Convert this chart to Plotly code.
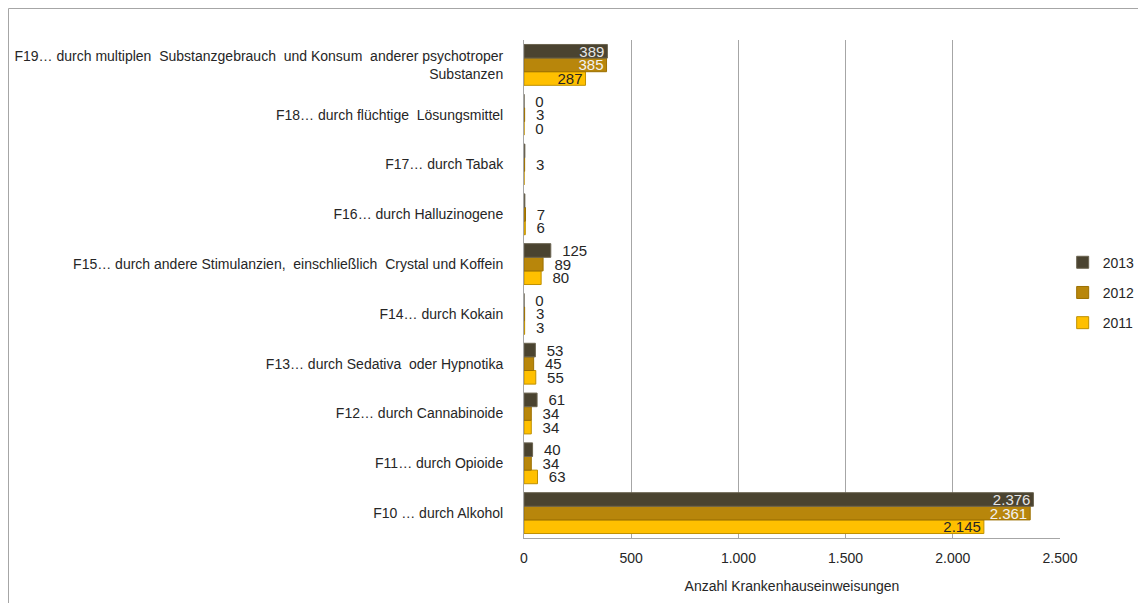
import plotly.graph_objects as go

categories = [
    "F10 … durch Alkohol",
    "F11… durch Opioide",
    "F12… durch Cannabinoide",
    "F13… durch Sedativa  oder Hypnotika",
    "F14… durch Kokain",
    "F15… durch andere Stimulanzien,  einschließlich  Crystal und Koffein",
    "F16… durch Halluzinogene",
    "F17… durch Tabak",
    "F18… durch flüchtige  Lösungsmittel",
    "F19… durch multiplen  Substanzgebrauch  und Konsum  anderer psychotroper<br>Substanzen",
]
v2011 = [2145, 63, 34, 55, 3, 80, 6, 0, 0, 287]
v2012 = [2361, 34, 34, 45, 3, 89, 7, 3, 3, 385]
v2013 = [2376, 40, 61, 53, 0, 125, 4, 4, 0, 389]
# labels shown in the reference (blank where the reference shows none)
t2011 = ["2.145", "63", "34", "55", "3", "80", "6", "", "0", "287"]
t2012 = ["2.361", "34", "34", "45", "3", "89", "7", "3", "3", "385"]
t2013 = ["2.376", "40", "61", "53", "0", "125", "", "", "0", "389"]
xticks = [0, 500, 1000, 1500, 2000, 2500]
xticklabels = ["0", "500", "1.000", "1.500", "2.000", "2.500"]

FONT = "Liberation Sans Narrow, Arial Narrow, Liberation Sans, Arial, sans-serif"

series = [
    ("2011", v2011, t2011, "#FFC000", "#BF9000", "#262626"),
    ("2012", v2012, t2012, "#B8860B", "#9C7000", "#F2F2F2"),
    ("2013", v2013, t2013, "#4A4330", "#6B6450", "#E6E6E6"),
]

W, H = 1130, 595          # page body has an 8px margin
L, T, PW, PH = 516, 32, 536, 498

fig = go.Figure()
for i, (name, vals, txt, col, lcol, incol) in enumerate(series):
    # zero-length bars get no label in plotly; give them a negligible length
    xs = [v if v > 0 else 0.001 for v in vals]
    inside = [v > 200 for v in vals]
    pos = ["inside" if f else "outside" for f in inside]
    shown = [t if (f or not t) else "\u00a0\u00a0" + t for t, f in zip(txt, inside)]
    fig.add_trace(go.Bar(
        y=categories, x=xs, name=name, orientation="h",
        marker=dict(color=col, line=dict(color=lcol, width=1)),
        text=shown, textposition=pos, cliponaxis=False,
        insidetextanchor="end", textangle=0, constraintext="none",
        insidetextfont=dict(color=incol, size=15, family=FONT),
        outsidetextfont=dict(color="#262626", size=15, family=FONT),
        hoverinfo="skip",
        legendgroup=name, legendrank=10 - i,
    ))

fig.update_layout(
    width=W, height=H,
    margin=dict(l=L, r=W - L - PW, t=T, b=H - T - PH, autoexpand=False),
    paper_bgcolor="white", plot_bgcolor="white",
    barmode="group", bargap=0.18, bargroupgap=0.0,
    font=dict(family=FONT, size=14, color="#262626"),
    showlegend=True,
    legend=dict(x=1.005, y=0.585, xanchor="left", yanchor="top",
                traceorder="grouped", tracegroupgap=9,
                font=dict(size=14, family=FONT, color="#262626"),
                itemwidth=30),
    xaxis=dict(range=[0, 2500], tickvals=xticks, ticktext=xticklabels,
               showgrid=True, gridcolor="#A6A6A6", gridwidth=1,
               showline=True, linecolor="#A6A6A6", mirror=False,
               zeroline=False, ticks="", tickfont=dict(size=14),
               ticklabelstandoff=7,
               title=dict(text="Anzahl Krankenhauseinweisungen",
                          font=dict(size=14), standoff=16)),
    yaxis=dict(showgrid=False, showline=True, linecolor="#A6A6A6",
               ticks="", ticklabelstandoff=17, tickfont=dict(size=14)),
)
# outer chart border (left and top edges)
bx = (0.5 - L) / PW
by = (T + PH - 0.5) / PH
fig.add_shape(type="line", xref="paper", yref="paper",
              x0=bx, x1=(W - L) / PW, y0=by, y1=by,
              line=dict(color="#A6A6A6", width=1))
fig.add_shape(type="line", xref="paper", yref="paper",
              x0=bx, x1=bx, y0=(T + PH - H) / PH, y1=by,
              line=dict(color="#A6A6A6", width=1))

fig.write_html("out.html")
